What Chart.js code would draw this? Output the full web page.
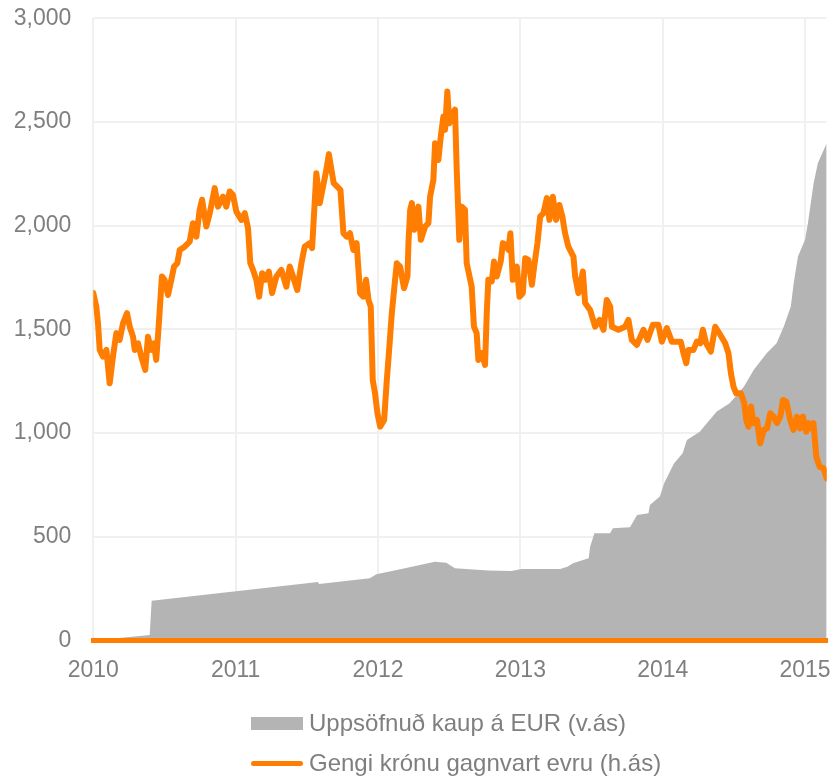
<!DOCTYPE html>
<html lang="is">
<head>
<meta charset="utf-8">
<title>Uppsöfnuð kaup á EUR og gengi krónu</title>
<script src="https://cdn.jsdelivr.net/npm/chart.js@4.4.1/dist/chart.umd.min.js"></script>
<style>
  html, body { margin: 0; padding: 0; background: #fff; }
  #wrap { position: relative; width: 833px; height: 777px; }
  #chart { position: absolute; left: 0; top: 0; }
  #legend {
    position: absolute; left: 251px; top: 703px;
    font: 24px "Liberation Sans", Arial, sans-serif; color: #7f7f7f;
  }
  .legend-row { display: flex; align-items: center; height: 40px; white-space: nowrap; }
  .legend-swatch { width: 52px; margin-right: 6px; flex: none; }
</style>
</head>
<body>
<div id="wrap">
  <canvas id="chart" width="833" height="777"></canvas>
  <div id="legend"></div>
</div>
<script>
// Year ticks on the x axis, value ticks on the left axis.
const yearTicks = [2010, 2011, 2012, 2013, 2014, 2015];
const valueTicks = [0, 500, 1000, 1500, 2000, 2500, 3000];

// Accumulated EUR purchases (v.ás)
const purchaseYears = [
  2010.000, 2010.396, 2010.410, 2011.579, 2011.585, 2011.942, 2011.989, 2012.165,
  2012.399, 2012.480, 2012.540, 2012.774, 2012.938, 2013.008, 2013.280, 2013.330,
  2013.370, 2013.440, 2013.480, 2013.490, 2013.520, 2013.630, 2013.650, 2013.770,
  2013.820, 2013.900, 2013.910, 2013.980, 2014.010, 2014.080, 2014.140, 2014.170,
  2014.260, 2014.310, 2014.380, 2014.470, 2014.570, 2014.640, 2014.730, 2014.800,
  2014.850, 2014.900, 2014.920, 2014.950, 2015.000, 2015.020, 2015.060, 2015.090,
  2015.152,
];
const purchaseValues = [
  0, 27, 192, 282, 272, 300, 319, 345,
  380, 375, 348, 337, 335, 345, 345, 356,
  372, 388, 396, 452, 517, 517, 541, 546,
  605, 613, 653, 694, 758, 855, 903, 967,
  1007, 1048, 1104, 1144, 1224, 1305, 1385, 1433,
  1513, 1610, 1723, 1851, 1932, 2012, 2205, 2302,
  2398,
];

// Krona exchange rate against the euro (h.ás)
const rateYears = [
  2010.000, 2010.021, 2010.033, 2010.045, 2010.068, 2010.092, 2010.115, 2010.138,
  2010.162, 2010.185, 2010.209, 2010.237, 2010.256, 2010.279, 2010.291, 2010.314,
  2010.337, 2010.365, 2010.384, 2010.407, 2010.426, 2010.442, 2010.459, 2010.482,
  2010.501, 2010.525, 2010.548, 2010.567, 2010.590, 2010.607, 2010.642, 2010.677,
  2010.700, 2010.724, 2010.747, 2010.764, 2010.794, 2010.818, 2010.853, 2010.876,
  2010.911, 2010.934, 2010.958, 2010.981, 2011.005, 2011.040, 2011.064, 2011.087,
  2011.103, 2011.122, 2011.145, 2011.165, 2011.186, 2011.209, 2011.233, 2011.256,
  2011.286, 2011.321, 2011.356, 2011.380, 2011.403, 2011.433, 2011.462, 2011.485,
  2011.520, 2011.537, 2011.555, 2011.567, 2011.591, 2011.614, 2011.637, 2011.655,
  2011.677, 2011.689, 2011.736, 2011.757, 2011.780, 2011.803, 2011.827, 2011.850,
  2011.874, 2011.897, 2011.916, 2011.933, 2011.949, 2011.963, 2011.979, 2011.996,
  2012.015, 2012.043, 2012.062, 2012.080, 2012.097, 2012.120, 2012.132, 2012.155,
  2012.183, 2012.207, 2012.214, 2012.226, 2012.238, 2012.254, 2012.284, 2012.301,
  2012.331, 2012.354, 2012.366, 2012.389, 2012.401, 2012.424, 2012.441, 2012.459,
  2012.471, 2012.487, 2012.501, 2012.525, 2012.541, 2012.553, 2012.571, 2012.588,
  2012.611, 2012.623, 2012.658, 2012.674, 2012.693, 2012.705, 2012.729, 2012.752,
  2012.764, 2012.775, 2012.799, 2012.815, 2012.834, 2012.862, 2012.877, 2012.898,
  2012.916, 2012.930, 2012.947, 2012.975, 2012.994, 2013.017, 2013.034, 2013.057,
  2013.081, 2013.097, 2013.120, 2013.139, 2013.162, 2013.186, 2013.204, 2013.228,
  2013.251, 2013.274, 2013.295, 2013.314, 2013.337, 2013.373, 2013.385, 2013.408,
  2013.439, 2013.455, 2013.490, 2013.525, 2013.556, 2013.584, 2013.607, 2013.631,
  2013.643, 2013.689, 2013.736, 2013.759, 2013.783, 2013.818, 2013.865, 2013.893,
  2013.931, 2013.970, 2013.994, 2014.029, 2014.064, 2014.099, 2014.127, 2014.146,
  2014.165, 2014.181, 2014.216, 2014.240, 2014.263, 2014.282, 2014.305, 2014.338,
  2014.369, 2014.404, 2014.439, 2014.462, 2014.479, 2014.497, 2014.516, 2014.549,
  2014.573, 2014.587, 2014.603, 2014.620, 2014.638, 2014.662, 2014.685, 2014.709,
  2014.733, 2014.756, 2014.779, 2014.803, 2014.826, 2014.845, 2014.868, 2014.896,
  2014.919, 2014.943, 2014.966, 2014.985, 2015.008, 2015.024, 2015.041, 2015.059,
  2015.079, 2015.102, 2015.130, 2015.152,
];
const rateValues = [
  1675, 1610, 1530, 1401, 1369, 1401, 1240, 1369,
  1482, 1449, 1530, 1578, 1513, 1465, 1401, 1433,
  1369, 1305, 1465, 1401, 1433, 1353, 1513, 1755,
  1739, 1666, 1739, 1803, 1819, 1883, 1899, 1923,
  2012, 1947, 2076, 2125, 1996, 2060, 2181, 2092,
  2140, 2092, 2165, 2149, 2068, 2028, 2060, 1988,
  1819, 1787, 1739, 1658, 1771, 1739, 1779, 1675,
  1755, 1787, 1706, 1803, 1755, 1690, 1819, 1899,
  1916, 1892, 2109, 2253, 2109, 2189, 2269, 2345,
  2253, 2205, 2173, 1964, 1947, 1964, 1883, 1916,
  1675, 1658, 1739, 1642, 1610, 1256, 1192, 1096,
  1031, 1063, 1256, 1417, 1578, 1739, 1819, 1803,
  1699, 1755, 1916, 2076, 2109, 1980, 2092, 1932,
  1996, 2012, 2140, 2221, 2398, 2317, 2430, 2526,
  2462, 2647, 2494, 2543, 2559, 2269, 1932, 2092,
  2076, 1819, 1706, 1513, 1482, 1353, 1385, 1329,
  1578, 1739, 1731, 1827, 1755, 1827, 1916, 1907,
  1883, 1964, 1739, 1803, 1658, 1675, 1843, 1835,
  1715, 1803, 1916, 2044, 2060, 2133, 2028, 2140,
  2028, 2100, 2044, 1964, 1899, 1851, 1755, 1675,
  1779, 1627, 1594, 1513, 1546, 1498, 1642, 1610,
  1513, 1498, 1513, 1546, 1449, 1425, 1498, 1449,
  1522, 1522, 1441, 1506, 1441, 1441, 1441, 1385,
  1337, 1401, 1401, 1441, 1433, 1498, 1433, 1393,
  1513, 1474, 1433, 1385, 1289, 1224, 1192, 1192,
  1144, 1063, 1031, 1128, 1048, 1063, 951, 1015,
  1023, 1096, 1079, 1048, 1079, 1160, 1152, 1063,
  1015, 1079, 1023, 1079, 1007, 1048, 1023, 1048,
  886, 838, 830, 782,
];

const GREY = '#b4b4b4';
const ORANGE = '#ff7d00';
const TEXT = '#7f7f7f';
const GRID = '#f0f0f0';
const FONT = { family: '"Liberation Sans", Arial, sans-serif', size: 23 };

function _points(xs, ys) {
  return xs.map((x, i) => ({ x, y: ys[i] }));
}

// Builds the two-row legend under the canvas from the chart's own datasets.
const htmlLegend = {
  id: 'htmlLegend',
  afterUpdate(chart) {
    const box = document.getElementById('legend');
    box.textContent = '';
    for (const ds of chart.data.datasets) {
      const row = document.createElement('div');
      row.className = 'legend-row';
      const sw = document.createElement('span');
      sw.className = 'legend-swatch';
      if (ds.fill) {
        sw.style.height = '13px';
        sw.style.background = ds.backgroundColor;
      } else {
        sw.style.height = '5px';
        sw.style.borderRadius = '3px';
        sw.style.background = ds.borderColor;
      }
      const label = document.createElement('span');
      label.textContent = ds.label;
      row.appendChild(sw);
      row.appendChild(label);
      box.appendChild(row);
    }
  },
};

new Chart(document.getElementById('chart'), {
  type: 'line',
  data: {
    datasets: [
      {
        label: 'Uppsöfnuð kaup á EUR (v.ás)',
        data: _points(purchaseYears, purchaseValues),
        yAxisID: 'y',
        fill: 'origin',
        backgroundColor: GREY,
        borderWidth: 0,
        pointRadius: 0,
        tension: 0,
        order: 1,
      },
      {
        label: 'Gengi krónu gagnvart evru (h.ás)',
        data: _points(rateYears, rateValues),
        yAxisID: 'y1',
        fill: false,
        borderColor: ORANGE,
        borderWidth: 6,
        borderJoinStyle: 'round',
        borderCapStyle: 'round',
        pointRadius: 0,
        tension: 0,
        order: 0,
      },
    ],
  },
  options: {
    responsive: false,
    animation: false,
    events: [],
    layout: { padding: { left: 0, right: 6.3, top: 18.3, bottom: 92.9 } },
    plugins: { legend: { display: false }, tooltip: { enabled: false } },
    scales: {
      x: {
        type: 'linear',
        min: 2010,
        max: 2015.152,
        afterBuildTicks: (s) => { s.ticks = yearTicks.map((v) => ({ value: v })); },
        grid: { color: GRID, lineWidth: 2, drawTicks: true, tickLength: 16, tickColor: 'rgba(0,0,0,0)' },
        border: { display: true, color: ORANGE, width: 5, z: 1 },
        ticks: { padding: 0, color: TEXT, font: FONT, maxRotation: 0, callback: (v) => String(v) },
      },
      y: {
        position: 'left',
        min: 0,
        max: 3000,
        afterBuildTicks: (s) => { s.ticks = valueTicks.map((v) => ({ value: v })); },
        afterFit: (s) => { s.width = 93.3; },
        grid: { color: GRID, lineWidth: 2, drawTicks: true, tickLength: 22, tickColor: 'rgba(0,0,0,0)' },
        border: { display: false },
        ticks: { padding: 0, color: TEXT, font: FONT, callback: (v) => v.toLocaleString('en-US') },
      },
      y1: { position: 'right', display: false, min: 0, max: 3000 },
    },
  },
  plugins: [htmlLegend],
});
</script>
</body>
</html>
